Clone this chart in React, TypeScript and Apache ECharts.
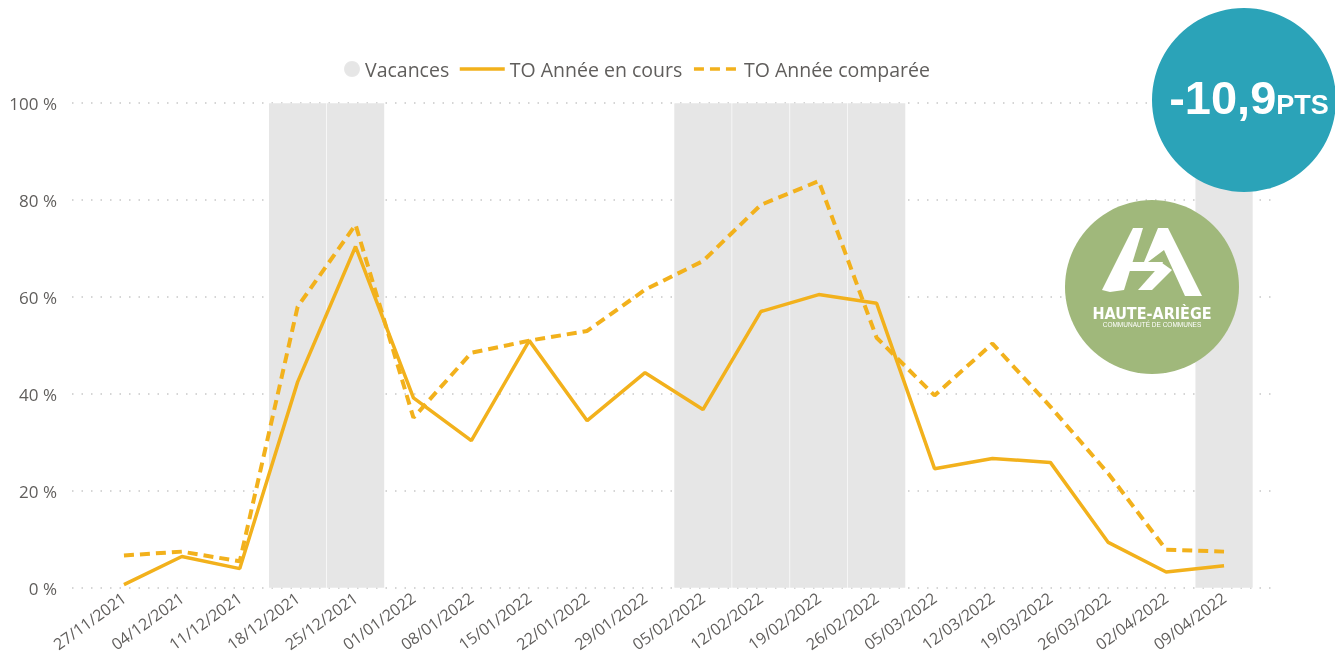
import React, { useEffect, useRef } from "react";
import * as echarts from "echarts";

const categories = [
  "27/11/2021", "04/12/2021", "11/12/2021", "18/12/2021", "25/12/2021",
  "01/01/2022", "08/01/2022", "15/01/2022", "22/01/2022", "29/01/2022",
  "05/02/2022", "12/02/2022", "19/02/2022", "26/02/2022", "05/03/2022",
  "12/03/2022", "19/03/2022", "26/03/2022", "02/04/2022", "09/04/2022",
];
const vacances = [null, null, null, 100, 100, null, null, null, null, null, 100, 100, 100, 100, null, null, null, null, null, 100];
const toAnneeEnCours = [0.7, 6.5, 4.0, 42.5, 70.4, 39.2, 30.4, 51.0, 34.5, 44.4, 36.8, 57.0, 60.5, 58.7, 24.6, 26.7, 25.9, 9.4, 3.3, 4.6];
const toAnneeComparee = [6.7, 7.5, 5.5, 58.0, 74.9, 35.1, 48.5, 51.0, 53.0, 61.5, 67.4, 79.0, 83.9, 51.6, 39.7, 50.4, 37.4, 23.6, 7.9, 7.5];
const yTicks = [0, 20, 40, 60, 80, 100];
const badgeValue = "-10,9";
const badgeUnit = "PTS";

const LINE = "#F2B11C";
const FONT = "'Open Sans', 'Noto Sans', sans-serif";
const ARIAL = "'Liberation Sans', Arial, sans-serif";

export default function App() {
  const ref = useRef<HTMLDivElement>(null);
  useEffect(() => {
    if (!ref.current) return;
    const chart = echarts.init(ref.current, null, { renderer: "svg" });
    const L = (x: number, y: number) => [x, y];
    chart.setOption({
      animation: false,
      textStyle: { fontFamily: FONT },
      legend: [
        {
          left: 338,
          top: 54,
          itemWidth: 16,
          itemHeight: 16,
          textStyle: { color: "#605E5C", fontSize: 19.5, fontFamily: FONT },
          data: [{ name: "Vacances", icon: "circle" }],
        },
        {
          left: 453,
          top: 54,
          itemGap: 10,
          itemWidth: 45,
          itemHeight: 16,
          itemStyle: { opacity: 0 },
          lineStyle: { width: 3.5 },
          textStyle: { color: "#605E5C", fontSize: 19.5, fontFamily: FONT },
          data: [{ name: "TO Année en cours" }, { name: "TO Année comparée" }],
        },
      ],
      grid: [
        { left: 72, right: 63, top: 103, bottom: 71 },
        { left: 95, right: 82, top: 103, bottom: 71 },
      ],
      xAxis: [
        { type: "value", gridIndex: 0, show: false, min: 0, max: 1 },
        {
          type: "category",
          gridIndex: 1,
          data: categories,
          boundaryGap: true,
          axisLine: { show: false },
          axisTick: { show: false },
          axisLabel: {
            interval: 0,
            rotate: 36,
            fontSize: 16,
            color: "#605E5C",
            margin: 8,
            fontFamily: FONT,
          },
        },
      ],
      yAxis: [
        {
          type: "value",
          gridIndex: 0,
          min: 0,
          max: 100,
          interval: 20,
          axisLine: { show: false },
          axisTick: { show: false },
          axisLabel: {
            formatter: (v: number) => (yTicks.includes(v) ? `${v} %` : ""),
            fontSize: 17,
            color: "#605E5C",
            margin: 15,
            fontFamily: FONT,
          },
          splitLine: { lineStyle: { type: [1.5, 8], color: "#C8C8C8", width: 1.5 } },
        },
        { type: "value", gridIndex: 1, min: 0, max: 100, show: false },
      ],
      series: [
        {
          name: "Vacances",
          type: "bar",
          xAxisIndex: 1,
          yAxisIndex: 1,
          data: vacances,
          barCategoryGap: "0%",
          itemStyle: { color: "#E6E6E6", borderColor: "rgba(255,255,255,0.08)", borderWidth: 0.6 },
          z: 1,
        },
        {
          name: "TO Année en cours",
          type: "line",
          xAxisIndex: 1,
          yAxisIndex: 1,
          data: toAnneeEnCours,
          symbol: "none",
          lineStyle: { color: LINE, width: 3.5 },
          itemStyle: { color: LINE },
          z: 3,
        },
        {
          name: "TO Année comparée",
          type: "line",
          xAxisIndex: 1,
          yAxisIndex: 1,
          data: toAnneeComparee,
          symbol: "none",
          lineStyle: { color: LINE, width: 4, type: [10, 6] },
          itemStyle: { color: LINE },
          z: 2,
        },
      ],
      graphic: [
        { type: "circle", shape: { cx: 1244, cy: 100, r: 92 }, style: { fill: "#2BA3B8" }, z: 10 },
        {
          type: "text",
          x: 1249,
          y: 97,
          z: 11,
          style: {
            text: `{a|${badgeValue}}{b|${badgeUnit}}`,
            align: "center",
            verticalAlign: "middle",
            rich: {
              a: { fontSize: 47, fontWeight: "bold", fill: "#fff", fontFamily: ARIAL, verticalAlign: "bottom" },
              b: { fontSize: 27, fontWeight: "bold", fill: "#fff", fontFamily: ARIAL, verticalAlign: "bottom", padding: [0, 0, 2, 0] },
            },
          },
        },
        { type: "circle", shape: { cx: 1152, cy: 287, r: 87 }, style: { fill: "#A0B87B" }, z: 10 },
        { type: "polygon", z: 11, shape: { points: [L(1133, 228), L(1143, 228), L(1124, 290), L(1110, 292), L(1102, 290)] }, style: { fill: "#fff" } },
        { type: "polygon", z: 11, shape: { points: [L(1158, 228), L(1168, 228), L(1202, 296), L(1185, 296), L(1164, 250), L(1148, 262), L(1144, 262)] }, style: { fill: "#fff" } },
        { type: "polygon", z: 11, shape: { points: [L(1127, 262), L(1163, 262), L(1159, 271), L(1123, 271)] }, style: { fill: "#fff" } },
        { type: "polygon", z: 11, shape: { points: [L(1162, 263), L(1172, 270), L(1152, 290), L(1138, 290)] }, style: { fill: "#fff" } },
        {
          type: "text",
          x: 1152,
          y: 313,
          z: 11,
          style: {
            text: "HAUTE-ARIÈGE",
            align: "center",
            verticalAlign: "middle",
            fontSize: 16,
            fontWeight: "bold",
            fill: "#fff",
            fontFamily: "'Liberation Sans Narrow', 'DejaVu Sans Condensed', sans-serif",
          },
        },
        {
          type: "text",
          x: 1152,
          y: 324,
          z: 11,
          style: {
            text: "COMMUNAUTÉ DE COMMUNES",
            align: "center",
            verticalAlign: "middle",
            fontSize: 6.5,
            fill: "#fff",
            fontFamily: ARIAL,
          },
        },
      ],
    });
    return () => chart.dispose();
  }, []);
  return <div ref={ref} style={{ position: "fixed", left: 0, top: 0, width: 1335, height: 659 }} />;
}
